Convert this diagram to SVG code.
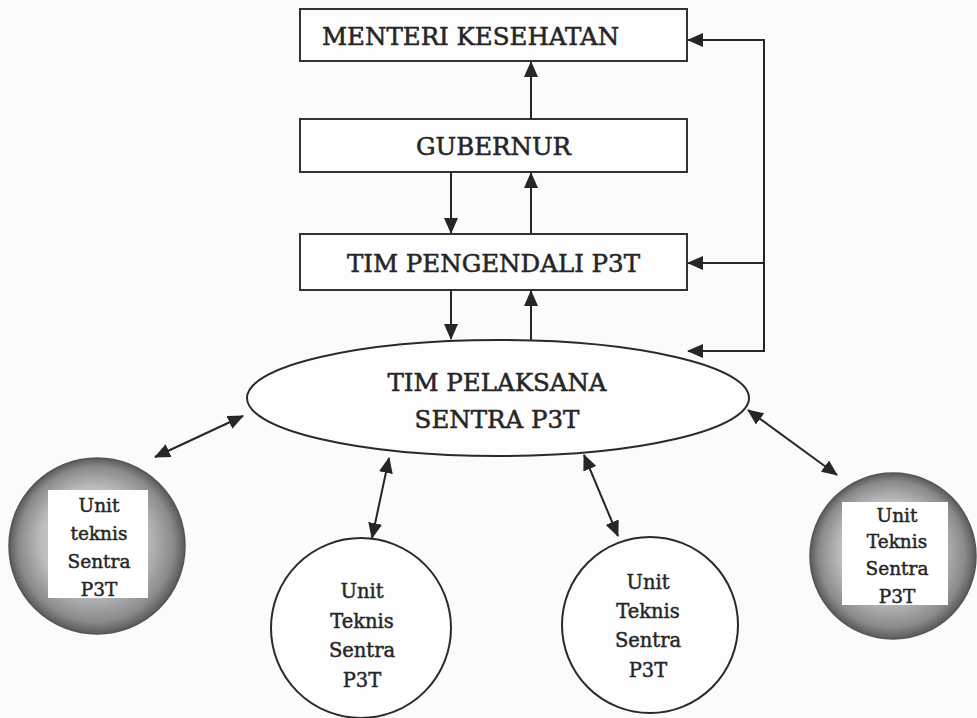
<svg xmlns="http://www.w3.org/2000/svg" width="977" height="718" viewBox="0 0 977 718">
<style>
.box{fill:#fdfdfd;stroke:#333;stroke-width:2}
.t{font-family:"DejaVu Serif","Liberation Serif",serif;fill:#262626;stroke:#262626;stroke-width:0.55}
.big{font-size:24.5px}
.sm{font-size:18.5px;text-anchor:middle;stroke-width:0.45}
.md{font-size:19.5px;text-anchor:middle;stroke-width:0.45}
.ln{stroke:#262626;stroke-width:2;fill:none}
.circ{fill:#fdfdfd;stroke:#2a2a2a;stroke-width:2}
.sh{fill:url(#g);stroke:#555;stroke-width:1.5}
.wr{fill:#ffffff}
</style>
<defs>
<marker id="ah" viewBox="0 0 16 14" refX="15" refY="7" markerWidth="16" markerHeight="14" markerUnits="userSpaceOnUse" orient="auto-start-reverse">
<path d="M0,0 L16,7 L0,14 z" fill="#262626"/>
</marker>
<radialGradient id="g" cx="50%" cy="50%" r="50%" fx="45%" fy="42%">
<stop offset="0" stop-color="#d8d8da"/>
<stop offset="0.6" stop-color="#bcbcbe"/>
<stop offset="0.88" stop-color="#8a8a8c"/>
<stop offset="1" stop-color="#5a5a5c"/>
</radialGradient>
</defs>
<rect width="977" height="718" fill="#fafbfc"/>
<g id="menteri">
<rect class="box" x="300" y="9" width="387" height="52"/>
<text class="t big" x="322" y="45">MENTERI KESEHATAN</text>
</g>
<g id="gubernur">
<rect class="box" x="300" y="119" width="387" height="53"/>
<text class="t big" x="493.5" y="155" text-anchor="middle">GUBERNUR</text>
</g>
<g id="pengendali">
<rect class="box" x="300" y="234" width="387" height="56"/>
<text class="t big" x="493.5" y="272" text-anchor="middle">TIM PENGENDALI P3T</text>
</g>
<g id="pelaksana">
<ellipse cx="498" cy="398" rx="251" ry="58" class="circ"/>
<text class="t big" x="497" y="391" text-anchor="middle">TIM PELAKSANA</text>
<text class="t big" x="497" y="428" text-anchor="middle">SENTRA P3T</text>
</g>
<g id="unit1">
<circle class="sh" cx="97" cy="546" r="88"/>
<rect class="wr" x="48" y="490" width="100" height="108"/>
<text class="t sm" x="99" y="512">Unit</text>
<text class="t sm" x="99" y="540">teknis</text>
<text class="t sm" x="99" y="568">Sentra</text>
<text class="t sm" x="99" y="596">P3T</text>
</g>
<g id="unit2">
<circle class="circ" cx="361" cy="628" r="90"/>
<text class="t md" x="362" y="598">Unit</text>
<text class="t md" x="362" y="628">Teknis</text>
<text class="t md" x="362" y="657">Sentra</text>
<text class="t md" x="362" y="687">P3T</text>
</g>
<g id="unit3">
<circle class="circ" cx="650" cy="625" r="88"/>
<text class="t md" x="648" y="589">Unit</text>
<text class="t md" x="648" y="618">Teknis</text>
<text class="t md" x="648" y="647">Sentra</text>
<text class="t md" x="648" y="677">P3T</text>
</g>
<g id="unit4">
<circle class="sh" cx="893" cy="556" r="83"/>
<rect class="wr" x="842" y="502" width="106" height="103"/>
<text class="t sm" x="897" y="522">Unit</text>
<text class="t sm" x="897" y="548">Teknis</text>
<text class="t sm" x="897" y="575">Sentra</text>
<text class="t sm" x="897" y="603">P3T</text>
</g>
<g id="connectors">
<line class="ln" x1="531" y1="119" x2="531" y2="62" marker-end="url(#ah)"/>
<line class="ln" x1="451" y1="172" x2="451" y2="233" marker-end="url(#ah)"/>
<line class="ln" x1="531" y1="234" x2="531" y2="173" marker-end="url(#ah)"/>
<line class="ln" x1="451" y1="290" x2="451" y2="339" marker-end="url(#ah)"/>
<line class="ln" x1="531" y1="340" x2="531" y2="291" marker-end="url(#ah)"/>
<polyline class="ln" points="688,40 764,40 764,351 688,351"/>
<line class="ln" x1="764" y1="40" x2="688" y2="40" marker-end="url(#ah)"/>
<line class="ln" x1="764" y1="263" x2="688" y2="263" marker-end="url(#ah)"/>
<line class="ln" x1="764" y1="351" x2="688" y2="351" marker-end="url(#ah)"/>
<line class="ln" x1="155" y1="457" x2="243" y2="416" marker-start="url(#ah)" marker-end="url(#ah)"/>
<line class="ln" x1="748" y1="410" x2="837" y2="475" marker-start="url(#ah)" marker-end="url(#ah)"/>
<line class="ln" x1="389" y1="458" x2="372" y2="538" marker-start="url(#ah)" marker-end="url(#ah)"/>
<line class="ln" x1="584" y1="455" x2="618" y2="536" marker-start="url(#ah)" marker-end="url(#ah)"/>
</g>
</svg>
